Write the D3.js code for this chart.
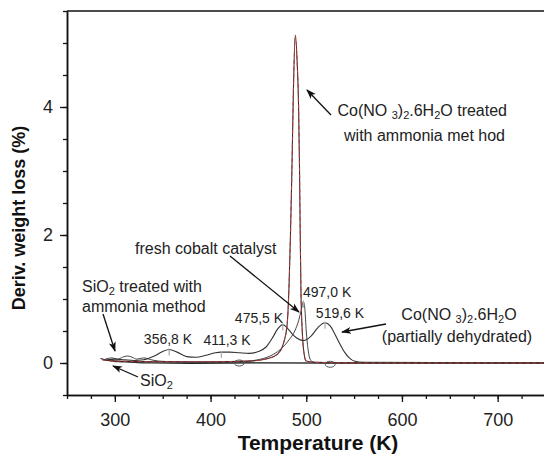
<!DOCTYPE html>
<html>
<head>
<meta charset="utf-8">
<script src="https://cdn.jsdelivr.net/npm/d3@7"></script>
<style>
  html, body { margin: 0; padding: 0; background: #fff; }
  svg { display: block; font-family: "Liberation Sans", Arial, Helvetica, sans-serif; }
</style>
</head>
<body>
<svg id="chart" width="544" height="455"></svg>
<script>
// ---- data ----
const xDomain = [250, 750];
const yDomain = [-0.5, 5.5];
const xTickLabels = [300, 400, 500, 600, 700];
const yTickLabels = [0, 2, 4];

const tSiO2 = [285, 290, 300, 310, 320, 340, 380, 450, 550, 650, 750];
const vSiO2 = [0.07, 0.05, 0.03, 0.02, 0.01, 0.0, -0.005, 0.0, 0.0, 0.0, 0.0];

const tSiO2NH3 = [290, 297, 303, 308, 313, 318, 323, 330, 338, 346, 360, 380, 420, 500, 750];
const vSiO2NH3 = [0.06, 0.08, 0.06, 0.09, 0.11, 0.09, 0.06, 0.08, 0.05, 0.03, 0.02, 0.01, 0.01, 0.0, 0.0];

const tCoNH3 = [287, 300, 350, 400, 440, 460, 470, 476, 480, 482, 483.5, 485, 486.5, 488.5, 490.5, 492, 493, 493.7, 494.5, 496, 498, 500, 510, 560, 600, 650, 700, 750];
const vCoNH3 = [0.05, 0.03, 0.02, 0.02, 0.03, 0.07, 0.14, 0.3, 0.6, 1.2, 2.0, 3.0, 4.2, 5.12, 4.7, 4.0, 3.0, 2.0, 1.1, 0.45, 0.12, 0.03, 0.01, 0.0, 0.0, 0.0, 0.0, 0.0];

const tFresh = [300, 380, 420, 440, 455, 465, 475, 482, 488, 492, 495, 497, 498.5, 500, 502, 504, 508, 520, 750];
const vFresh = [0.02, 0.01, 0.01, 0.03, 0.07, 0.13, 0.24, 0.36, 0.5, 0.66, 0.84, 0.96, 0.85, 0.5, 0.2, 0.06, 0.01, 0.0, 0.0];

const tPartial = [292, 300, 310, 320, 330, 340, 350, 357, 365, 375, 385, 395, 405, 411, 420, 430, 440, 450, 458, 465, 470, 475.5, 480, 485, 490, 497, 505, 512, 519.6, 525, 530, 535, 540, 545, 550, 560, 750];
const vPartial = [0.05, 0.06, 0.05, 0.04, 0.05, 0.1, 0.18, 0.21, 0.17, 0.1, 0.09, 0.12, 0.16, 0.17, 0.17, 0.16, 0.15, 0.18, 0.25, 0.4, 0.53, 0.6, 0.55, 0.46, 0.39, 0.35, 0.42, 0.55, 0.63, 0.58, 0.45, 0.3, 0.17, 0.08, 0.03, 0.01, 0.0];

// peak markers: temperature, value, label
const peakT = [356.8, 411.3, 475.5, 497.0, 519.6];
const peakV = [0.21, 0.17, 0.6, 0.96, 0.63];
const peakLabels = ["356,8 K", "411,3 K", "475,5 K", "497,0 K", "519,6 K"];

// small loop artefacts on the baseline
const loopT = [430, 525];
const loopV = [0.0, -0.02];

// ---- layout ----
const svg = d3.select("#chart");
const mLeft = 67, mTop = 11, mRight = 545.5, mBottom = 395;
const x = d3.scaleLinear().domain(xDomain).range([mLeft, mRight]);
const y = d3.scaleLinear().domain(yDomain).range([mBottom, mTop]);

const defs = svg.append("defs");
defs.append("clipPath").attr("id", "clip")
  .append("rect").attr("x", mLeft).attr("y", mTop).attr("width", mRight - mLeft).attr("height", mBottom - mTop);
defs.append("marker").attr("id", "arrow").attr("viewBox", "0 0 10 10")
  .attr("refX", 9).attr("refY", 5).attr("markerWidth", 10).attr("markerHeight", 10)
  .attr("markerUnits", "userSpaceOnUse").attr("orient", "auto")
  .append("path").attr("d", "M0,1.5 L10,5 L0,8.5 L2.5,5 Z").attr("fill", "#111");

// ---- axes ----
const xMinor = d3.range(250, 751, 25);
const yMinor = d3.range(-0.5, 5.51, 0.5);

svg.append("g").attr("transform", `translate(0,${mBottom})`)
  .call(d3.axisBottom(x).tickValues(xMinor).tickSize(4).tickSizeOuter(0).tickFormat(""));
svg.append("g").attr("transform", `translate(0,${mBottom})`)
  .call(d3.axisBottom(x).tickValues(xTickLabels).tickSize(7).tickSizeOuter(0).tickPadding(11).tickFormat(d3.format("d")));
svg.append("g").attr("transform", `translate(${mLeft},0)`)
  .call(d3.axisLeft(y).tickValues(yMinor).tickSize(4).tickSizeOuter(0).tickFormat(""));
svg.append("g").attr("transform", `translate(${mLeft},0)`)
  .call(d3.axisLeft(y).tickValues(yTickLabels).tickSize(7).tickSizeOuter(0).tickPadding(7).tickFormat(d3.format("d")));

svg.selectAll(".domain").attr("stroke", "#111").attr("stroke-width", 1.5);
svg.selectAll(".tick line").attr("stroke", "#111").attr("stroke-width", 1.3);
svg.selectAll(".tick text").attr("fill", "#222").style("font-size", "18px")
  .style("font-family", '"Liberation Sans", Arial, sans-serif');

// top frame line
svg.append("line").attr("x1", mLeft).attr("x2", 544).attr("y1", y(5.5)).attr("y2", y(5.5))
  .attr("stroke", "#111").attr("stroke-width", 1.5);

// axis titles
svg.append("text").attr("x", 318).attr("y", 450)
  .attr("text-anchor", "middle").attr("font-weight", "bold").attr("font-size", 21).attr("fill", "#111")
  .text("Temperature (K)");
svg.append("text").attr("transform", `translate(25,218) rotate(-90)`)
  .attr("text-anchor", "middle").attr("font-weight", "bold").attr("font-size", 18).attr("fill", "#111")
  .text("Deriv. weight loss (%)");

// ---- curves ----
const plot = svg.append("g").attr("clip-path", "url(#clip)");
const line = d3.line().x(d => x(d[0])).y(d => y(d[1])).curve(d3.curveMonotoneX);
const zip = (t, v) => t.map((d, i) => [d, v[i]]);

function drawCurve(t, v, color, width, dash) {
  plot.append("path").datum(zip(t, v)).attr("d", line)
    .attr("fill", "none").attr("stroke", color).attr("stroke-width", width)
    .attr("stroke-dasharray", dash || null).attr("stroke-linejoin", "round");
}
drawCurve(tSiO2, vSiO2, "#222", 1.2);
drawCurve(tSiO2NH3, vSiO2NH3, "#444", 1.0);
drawCurve(tPartial, vPartial, "#333", 1.1);
drawCurve(tFresh, vFresh, "#444", 1.0);
drawCurve(tCoNH3, vCoNH3, "#3a2a2e", 1.1);
drawCurve(tCoNH3, vCoNH3, "#b83a36", 1.0, "4,3");

// peak ticks
plot.selectAll(".pk").data(peakT).enter().append("line")
  .attr("x1", d => x(d)).attr("x2", d => x(d))
  .attr("y1", (d, i) => y(peakV[i]) - 1).attr("y2", (d, i) => y(peakV[i]) + 6)
  .attr("stroke", "#aaa").attr("stroke-width", 1.2);

// baseline loops
plot.selectAll(".loop").data(loopT).enter().append("ellipse")
  .attr("cx", d => x(d)).attr("cy", (d, i) => y(loopV[i]))
  .attr("rx", 5).attr("ry", 3).attr("fill", "none").attr("stroke", "#555").attr("stroke-width", 1);

// ---- annotations ----
const peaks = svg.append("g").attr("font-size", 14).attr("fill", "#222");
const peakX = [168, 227, 259, 303, 340];
const peakY = [344, 345, 323, 297, 318];
const anchors = ["middle", "middle", "middle", "start", "middle"];
peakLabels.forEach((s, i) => {
  peaks.append("text").attr("x", peakX[i]).attr("y", peakY[i]).attr("text-anchor", anchors[i]).text(s);
});

const ann = svg.append("g").attr("font-size", 16).attr("fill", "#222");
function sub(textSel, parts) {
  parts.forEach(p => {
    const ts = textSel.append("tspan").text(p[0]);
    if (p[1] === "sub") ts.attr("baseline-shift", "-30%").attr("font-size", 11);
  });
}

let t1 = ann.append("text").attr("x", 507).attr("y", 116).attr("text-anchor", "end");
sub(t1, [["Co(NO "], ["3", "sub"], [")"], ["2", "sub"], [".6H"], ["2", "sub"], ["O treated"]]);
ann.append("text").attr("x", 505).attr("y", 141).attr("text-anchor", "end").text("with ammonia met hod");

ann.append("text").attr("x", 135).attr("y", 254).text("fresh cobalt catalyst");

let t2 = ann.append("text").attr("x", 82).attr("y", 292);
sub(t2, [["SiO"], ["2", "sub"], [" treated with"]]);
ann.append("text").attr("x", 82).attr("y", 312).text("ammonia method");

let t3 = ann.append("text").attr("x", 140).attr("y", 386);
sub(t3, [["SiO"], ["2", "sub"]]);

let t4 = ann.append("text").attr("x", 459).attr("y", 320).attr("text-anchor", "middle");
sub(t4, [["Co(NO "], ["3", "sub"], [")"], ["2", "sub"], [".6H"], ["2", "sub"], ["O"]]);
ann.append("text").attr("x", 457).attr("y", 342).attr("text-anchor", "middle").text("(partially dehydrated)");

// arrows
const arrows = [
  [331, 115, 307, 90],
  [230, 256, 299, 312],
  [103, 314, 115, 351],
  [138, 377, 113, 366],
  [386, 324, 342, 332]
];
svg.append("g").selectAll("line").data(arrows).enter().append("line")
  .attr("x1", d => d[0]).attr("y1", d => d[1]).attr("x2", d => d[2]).attr("y2", d => d[3])
  .attr("stroke", "#111").attr("stroke-width", 1.3).attr("marker-end", "url(#arrow)");
</script>
</body>
</html>
